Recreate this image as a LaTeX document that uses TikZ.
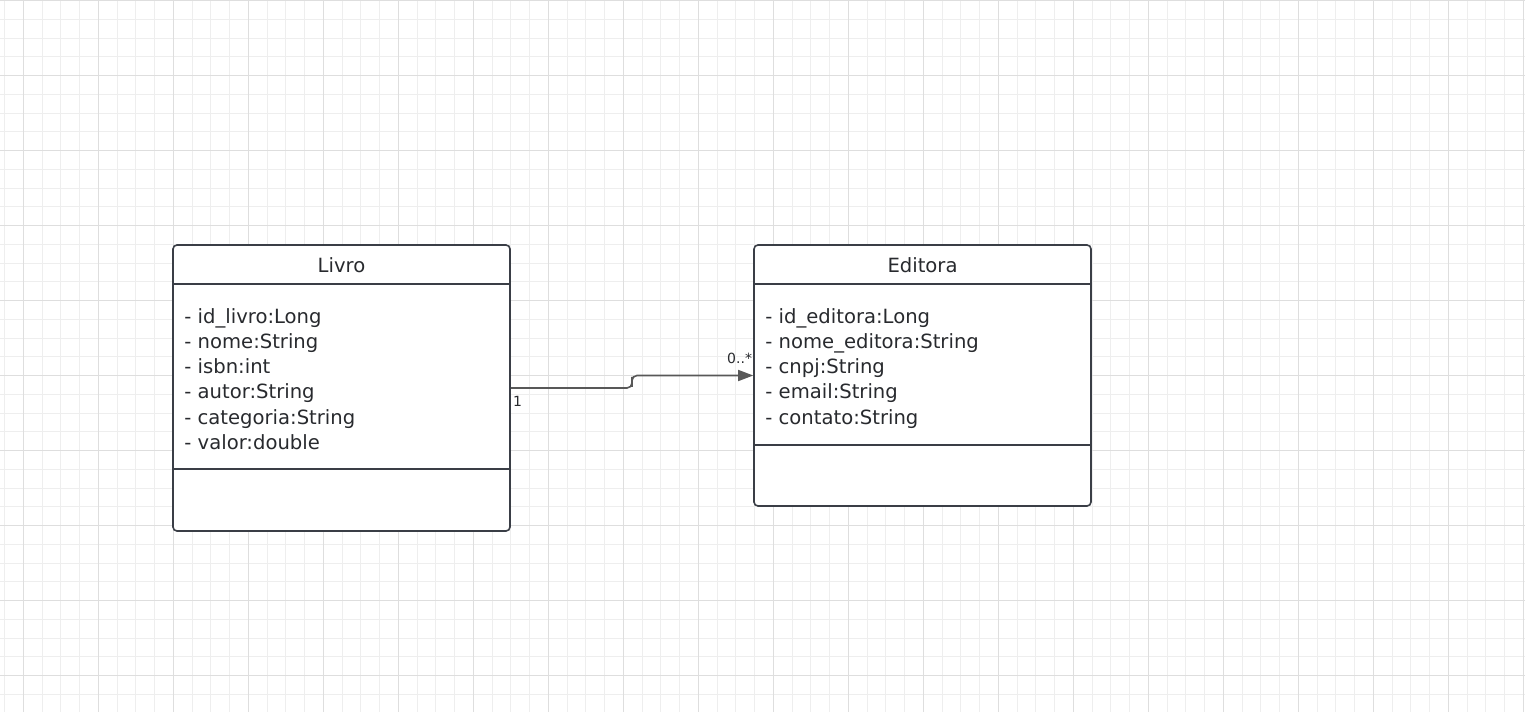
\documentclass[tikz,border=0pt]{standalone}
\usepackage{fontspec}
\setmainfont{DejaVu Sans}
\usetikzlibrary{arrows.meta,positioning,calc}
\definecolor{umlEdge}{RGB}{58,62,70}
\definecolor{umlText}{RGB}{40,42,46}
\definecolor{linkGray}{RGB}{88,88,88}
\definecolor{gridMinor}{RGB}{238,238,238}
\definecolor{gridMajor}{RGB}{222,222,222}

\begin{document}
\begin{tikzpicture}[
        x=1pt,y=-1pt,
        classbox/.style={draw=umlEdge,line width=1.6pt,rounded corners=4pt,fill=white,minimum width=337pt,inner sep=0pt},
        classname/.style={anchor=base,font=\fontsize{19.6}{24}\selectfont,text=umlText,inner sep=0pt},
        attr/.style={anchor=base west,font=\fontsize{19.6}{24}\selectfont,text=umlText,inner sep=0pt},
        divider/.style={draw=umlEdge,line width=1.6pt},
        assoc/.style={draw=linkGray,line width=1.6pt,rounded corners=5pt,-{Triangle[length=15pt,width=11pt]}},
        mult/.style={font=\fontsize{14}{16}\selectfont,text=umlText,inner sep=0pt},
        minorgrid/.style={draw=gridMinor,line width=1pt},
        majorgrid/.style={draw=gridMajor,line width=1pt}
      ]
        \useasboundingbox[fill=white] (0,0) rectangle (1525,712);
        % background grid
        \foreach \k in {0,...,81} \draw[minorgrid] (4.5+18.75*\k,0) -- (4.5+18.75*\k,712);
        \foreach \k in {0,...,38} \draw[minorgrid] (0,0.5+18.75*\k) -- (1525,0.5+18.75*\k);
        \foreach \k in {0,...,20} \draw[majorgrid] (23.25+75*\k,0) -- (23.25+75*\k,712);
        \foreach \k in {0,...,9} \draw[majorgrid] (0,0.5+75*\k) -- (1525,0.5+75*\k);

        % classes
        \node[classbox,minimum height=286pt] (livro) at (341.5,388) {};
        \node[classname] (livroname) at ($(livro.north)+(0,28)$) {Livro};
        \draw[divider] ($(livro.north west)+(0,40)$) -- ($(livro.north east)+(0,40)$);
        \draw[divider] ($(livro.north west)+(0,225)$) -- ($(livro.north east)+(0,225)$);
        \foreach \attrtext [count=\i from 0] in {- id\_livro:Long,- nome:String,- isbn:int,- autor:String,- categoria:String,- valor:double}
          \node[attr] (livroattr\i) at ($(livro.north west)+(12,79+25.2*\i)$) {\attrtext};

        \node[classbox,minimum height=261pt] (editora) at (922.5,375.5) {};
        \node[classname] (editoraname) at ($(editora.north)+(0,28)$) {Editora};
        \draw[divider] ($(editora.north west)+(0,40)$) -- ($(editora.north east)+(0,40)$);
        \draw[divider] ($(editora.north west)+(0,201)$) -- ($(editora.north east)+(0,201)$);
        \foreach \attrtext [count=\i from 0] in {- id\_editora:Long,- nome\_editora:String,- cnpj:String,- email:String,- contato:String}
          \node[attr] (editoraattr\i) at ($(editora.north west)+(12,79+25.2*\i)$) {\attrtext};

        % association
        \draw[assoc] (livro.east) -| ($(livro.east)!0.5!(editora.west)$) |- (editora.west);
        \node[mult,anchor=base west] (multlivro) at ($(livro.east)+(2,18)$) {1};
        \node[mult,anchor=base east] (multeditora) at ($(editora.west)+(-1,-12.5)$) {0..*};
      \end{tikzpicture}
\end{document}
